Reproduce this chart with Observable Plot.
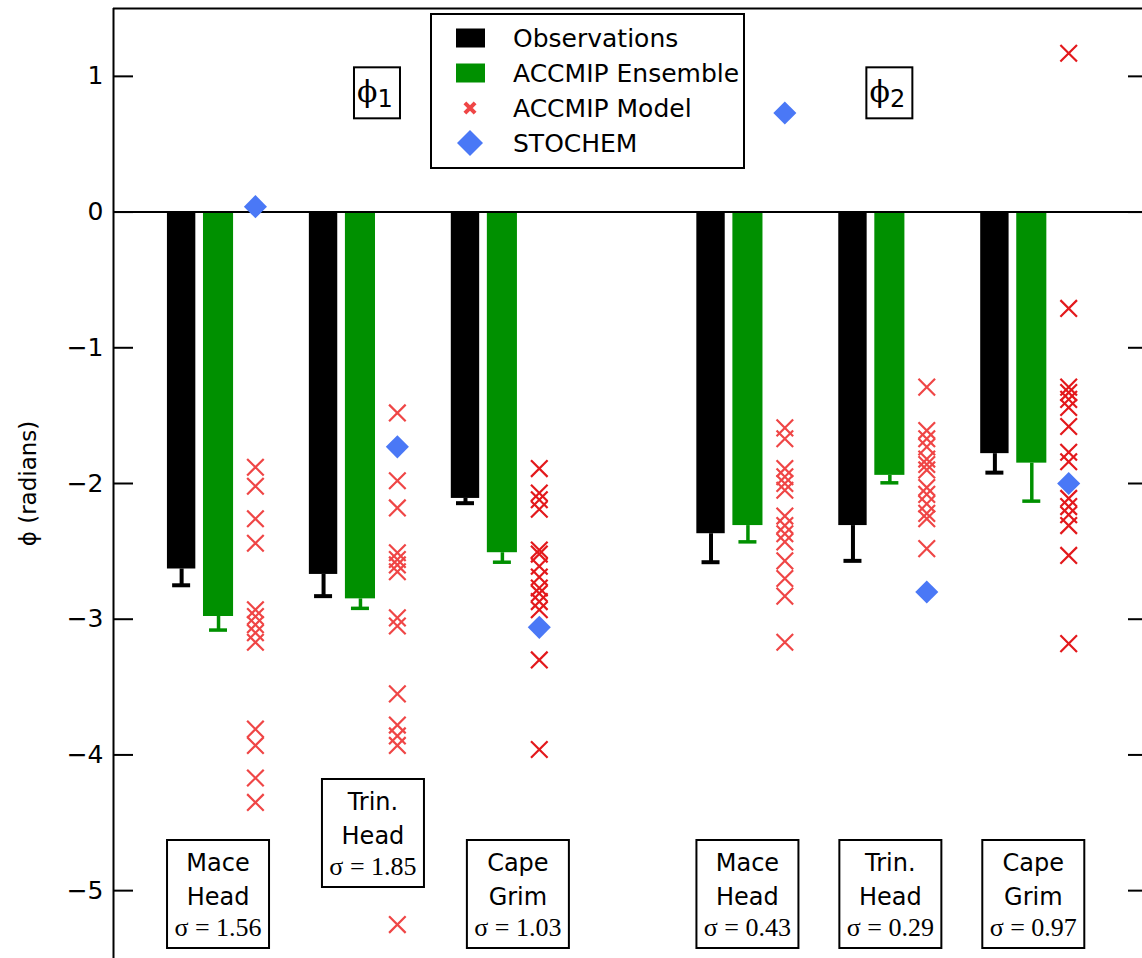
<!DOCTYPE html>
<html><head><meta charset="utf-8">
<script src="https://cdn.jsdelivr.net/npm/d3@7"></script>
<script src="https://cdn.jsdelivr.net/npm/@observablehq/plot@0.6"></script>
<style>
html,body{margin:0;padding:0;background:#fff;overflow:hidden}
#chart{position:relative;width:1142px;height:958px}
</style></head><body><div id="chart"></div>
<script>
// ---------- data ----------
const sites = ["Mace Head", "Trin. Head", "Cape Grim"];
const siteLines = [["Mace", "Head"], ["Trin.", "Head"], ["Cape", "Grim"]];
const harmonics = ["ϕ1", "ϕ2"];
const sigmaPhi1 = ["1.56", "1.85", "1.03"];
const sigmaPhi2 = ["0.43", "0.29", "0.97"];
const yTicks = [1, 0, -1, -2, -3, -4, -5];

const obsPhi1 = [-2.63, -2.67, -2.11];
const obsErrPhi1 = [0.12, 0.16, 0.035];
const ensPhi1 = [-2.98, -2.85, -2.51];
const ensErrPhi1 = [0.10, 0.07, 0.07];
const obsPhi2 = [-2.37, -2.31, -1.78];
const obsErrPhi2 = [0.21, 0.26, 0.14];
const ensPhi2 = [-2.31, -1.94, -1.85];
const ensErrPhi2 = [0.12, 0.055, 0.28];

const stochemPhi1 = [0.04, -1.73, -3.06];
const stochemPhi2 = [0.73, -2.80, -2.00];

const modelsMaceHeadPhi1 = [-1.88, -2.02, -2.26, -2.44, -2.93, -2.98, -3.04, -3.10, -3.17, -3.81, -3.93, -4.17, -4.35];
const modelsTrinHeadPhi1 = [-1.48, -1.98, -2.18, -2.51, -2.56, -2.60, -2.65, -2.99, -3.05, -3.55, -3.78, -3.86, -3.93, -5.25];
const modelsCapeGrimPhi1 = [-1.89, -2.07, -2.12, -2.19, -2.49, -2.52, -2.61, -2.69, -2.77, -2.81, -2.87, -2.93, -3.30, -3.96];
const modelsMaceHeadPhi2 = [-1.59, -1.67, -1.89, -1.95, -2.00, -2.05, -2.24, -2.31, -2.37, -2.43, -2.57, -2.70, -2.83, -3.17];
const modelsTrinHeadPhi2 = [-1.29, -1.61, -1.67, -1.73, -1.82, -1.86, -1.90, -2.03, -2.08, -2.15, -2.22, -2.26, -2.48];
const modelsCapeGrimPhi2 = [1.17, -0.71, -1.29, -1.33, -1.38, -1.44, -1.58, -1.77, -1.84, -2.11, -2.17, -2.23, -2.31, -2.53, -3.18];

// ---------- layout (not data) ----------
const phaseGap = 0.73;            // extra spacing between the two harmonics
const xDomain = [-0.74, 6.51];
const pxPerUnit = 1029 / (xDomain[1] - xDomain[0]);
const offObs = -0.26, offEns = 0, offModel = 0.26;
const hwObs = 0.1, hwEns = 0.106, capHalf = 9 / pxPerUnit;
const COL = {obs: "#000000", ens: "#009000", model: "#ef4646", modelDark: "#e3191c", stochem: "#4a78f6"};
const pos = (h, s) => s + h * (3 + phaseGap);

// ---------- tables ----------
const obsSets = [[obsPhi1, obsErrPhi1, ensPhi1, ensErrPhi1], [obsPhi2, obsErrPhi2, ensPhi2, ensErrPhi2]];
const bars = [];
obsSets.forEach((a, h) => sites.forEach((site, s) => {
  bars.push({series: "Observations", site, h, x: pos(h, s) + offObs, hw: hwObs, value: a[0][s], err: a[1][s], color: COL.obs, sw: 4});
  bars.push({series: "ACCMIP Ensemble", site, h, x: pos(h, s) + offEns, hw: hwEns, value: a[2][s], err: a[3][s], color: COL.ens, sw: 3.5});
}));
const modelSets = [[modelsMaceHeadPhi1, modelsTrinHeadPhi1, modelsCapeGrimPhi1], [modelsMaceHeadPhi2, modelsTrinHeadPhi2, modelsCapeGrimPhi2]];
const models = [];
modelSets.forEach((arr, h) => arr.forEach((vals, s) => vals.forEach(v =>
  models.push({site: sites[s], h, x: pos(h, s) + offModel, value: v, color: s === 2 ? COL.modelDark : COL.model}))));
const stochem = [];
[stochemPhi1, stochemPhi2].forEach((arr, h) => arr.forEach((v, s) => stochem.push({site: sites[s], h, x: pos(h, s) + offModel, value: v})));

const minus = v => (v < 0 ? "\u2212" + Math.abs(v) : String(v));

const chart = Plot.plot({
  width: 1142, height: 958,
  marginLeft: 113, marginRight: 0, marginTop: 8, marginBottom: 0,
  x: {domain: xDomain, axis: null},
  y: {domain: [-5.5, 1.5], axis: null},
  style: {fontFamily: "DejaVu Sans", background: "#fff", overflow: "visible"},
  marks: [
    Plot.rect(bars, {x1: d => d.x - d.hw, x2: d => d.x + d.hw, y1: 0, y2: "value", fill: "color"}),
    Plot.ruleX(bars, {x: "x", y1: "value", y2: d => d.value - d.err, stroke: "color", strokeWidth: "sw"}),
    Plot.ruleY(bars, {y: d => d.value - d.err, x1: d => d.x - capHalf, x2: d => d.x + capHalf, stroke: "color", strokeWidth: "sw"}),
    Plot.ruleY([0], {stroke: "#000", strokeWidth: 2}),
    Plot.ruleY([1.5], {stroke: "#000", strokeWidth: 2}),
    Plot.ruleX([xDomain[0]], {stroke: "#000", strokeWidth: 2}),
    Plot.ruleY(yTicks, {x1: xDomain[0], x2: xDomain[0] + 20 / pxPerUnit, stroke: "#000", strokeWidth: 2}),
    Plot.ruleY(yTicks, {x1: xDomain[1] - 14 / pxPerUnit, x2: xDomain[1], stroke: "#000", strokeWidth: 2}),
    Plot.axisY(yTicks, {anchor: "left", tickSize: 0, tickPadding: 10, fontSize: 25, tickFormat: minus, label: null}),
    Plot.dot(models, {x: "x", y: "value", symbol: "times", r: 7.6, stroke: "color", strokeWidth: 2.2}),
    Plot.dot(stochem, {x: "x", y: "value", symbol: "diamond2", r: 10.4, fill: COL.stochem, stroke: "none"}),
    Plot.text(["ϕ (radians)"], {frameAnchor: "left", textAnchor: "middle", dx: -85, rotate: -90, fontSize: 23, fill: "#000"})
  ]
});
document.getElementById("chart").appendChild(chart);

// ---------- annotations (positions from the plot's scales) ----------
const xs = chart.scale("x"), ys = chart.scale("y");
const svg = d3.select(chart);
const ann = svg.append("g").attr("fill", "#000");

// harmonic labels
const phiLabelX = [1.12, pos(1, 1)];
harmonics.forEach((hname, h) => {
  const cx = xs.apply(phiLabelX[h]), cy = ys.apply(0.875);
  ann.append("rect").attr("x", cx - 23).attr("y", cy - 25.5).attr("width", 46).attr("height", 51)
    .attr("fill", "#fff").attr("stroke", "#000").attr("stroke-width", 2);
  const t = ann.append("text").attr("x", cx - 2).attr("y", cy + 9).attr("text-anchor", "middle");
  t.append("tspan").attr("font-family", "DejaVu Serif").attr("font-size", 30).text(hname[0]);
  t.append("tspan").attr("font-family", "DejaVu Sans").attr("font-size", 24).attr("dy", 5).text(hname.slice(1));
});

// site label boxes
const labelDx = [[0, 13, 16], [0, 1, 2]];
const sigmas = [sigmaPhi1, sigmaPhi2];
[0, 1].forEach(h => sites.forEach((site, s) => {
  const cx = xs.apply(pos(h, s)) + labelDx[h][s];
  const top = (h === 0 && s === 1) ? 779 : 840;
  ann.append("rect").attr("x", cx - 51).attr("y", top).attr("width", 102).attr("height", 108)
    .attr("fill", "#fff").attr("stroke", "#000").attr("stroke-width", 2);
  siteLines[s].forEach((ln, i) => ann.append("text").attr("x", cx).attr("y", top + 23 + i * 34)
    .attr("text-anchor", "middle").attr("dominant-baseline", "central")
    .attr("font-family", "DejaVu Sans").attr("font-size", 24).text(ln));
  ann.append("text").attr("x", cx).attr("y", top + 87).attr("text-anchor", "middle").attr("dominant-baseline", "central")
    .attr("font-family", "Liberation Serif").attr("font-size", 26).text("σ = " + sigmas[h][s]);
}));

// legend
const legendItems = [
  {label: "Observations", kind: "rect", color: COL.obs},
  {label: "ACCMIP Ensemble", kind: "rect", color: COL.ens},
  {label: "ACCMIP Model", kind: "times", color: COL.model},
  {label: "STOCHEM", kind: "diamond", color: COL.stochem}
];
const lg = svg.append("g").attr("text-anchor", "start");
lg.append("rect").attr("x", 431).attr("y", 14).attr("width", 313).attr("height", 154)
  .attr("fill", "#fff").attr("stroke", "#000").attr("stroke-width", 2);
legendItems.forEach((it, i) => {
  const cy = 38 + i * 35;
  if (it.kind === "rect") lg.append("rect").attr("x", 456).attr("y", cy - 9.5).attr("width", 29).attr("height", 19).attr("fill", it.color);
  else if (it.kind === "times") lg.append("path").attr("transform", `translate(470,${cy})`)
    .attr("d", d3.symbol(d3.symbolTimes, 70)()).attr("stroke", it.color).attr("stroke-width", 4).attr("fill", "none");
  else lg.append("path").attr("transform", `translate(470,${cy})`)
    .attr("d", d3.symbol(d3.symbolDiamond2, 430)()).attr("fill", it.color);
  lg.append("text").attr("x", 513).attr("y", cy).attr("text-anchor", "start").attr("dominant-baseline", "central")
    .attr("font-family", "DejaVu Sans").attr("font-size", 25).attr("fill", "#000").text(it.label);
});
</script>
</body></html>
